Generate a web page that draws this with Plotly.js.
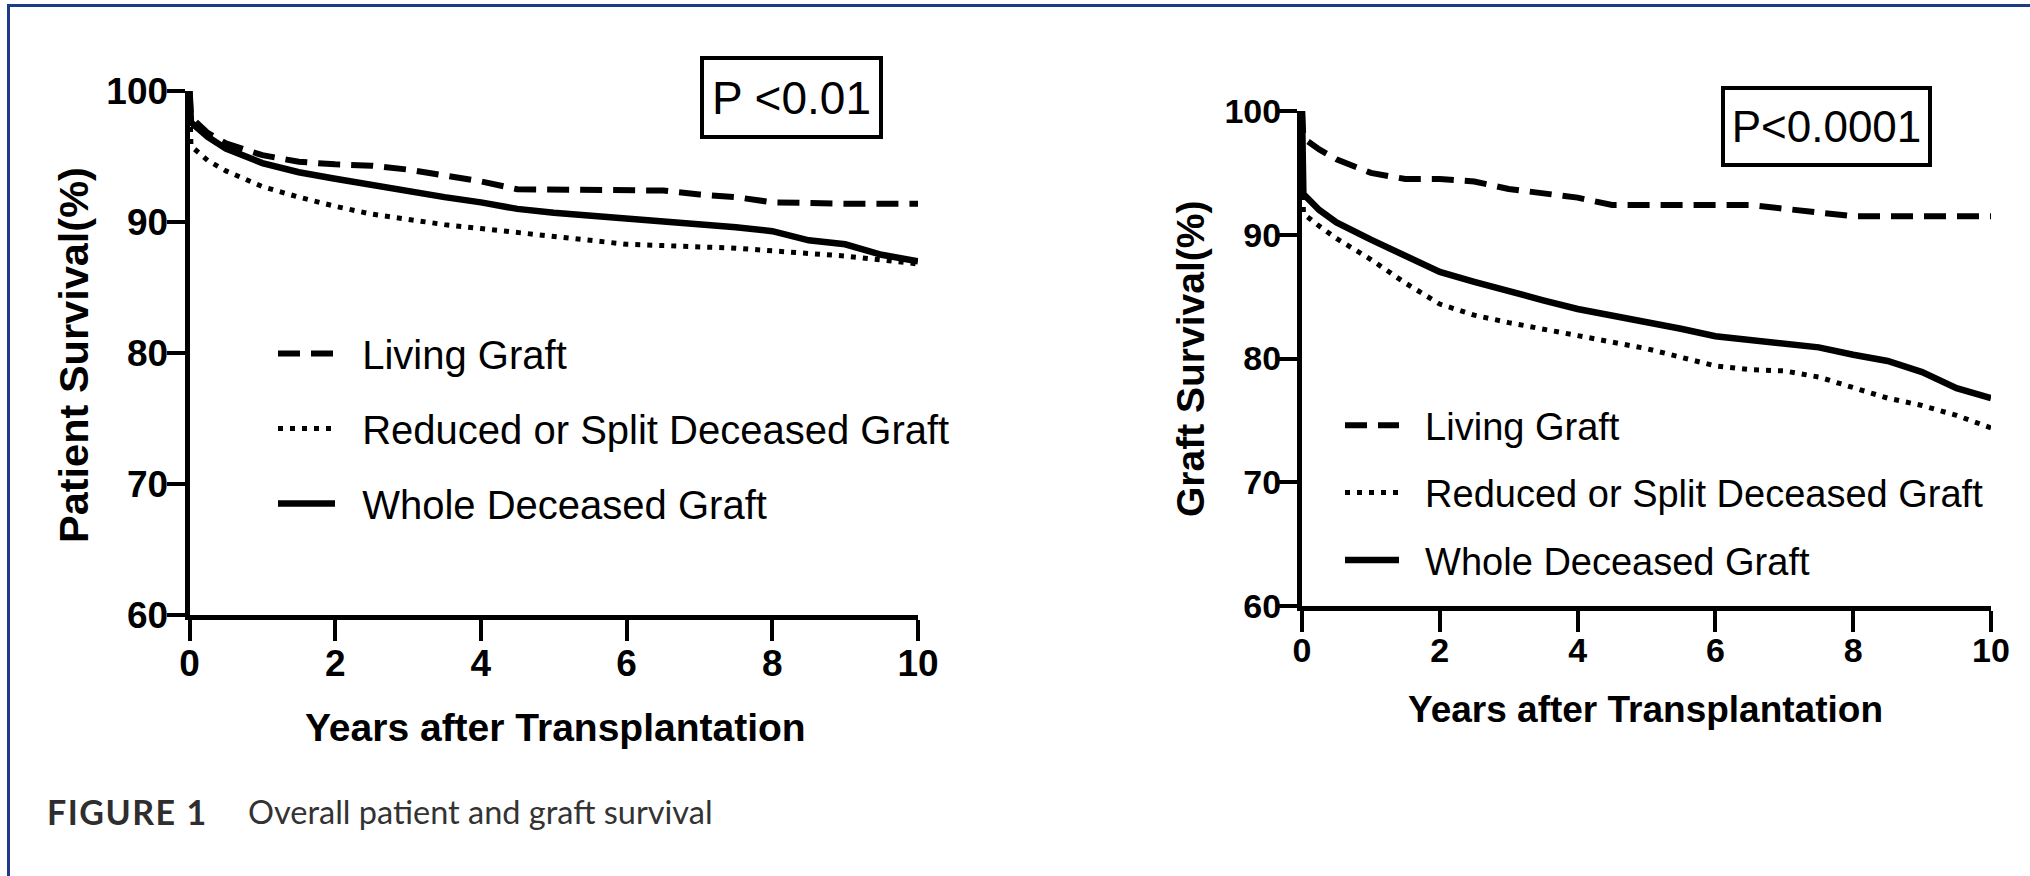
<!DOCTYPE html>
<html>
<head>
<meta charset="utf-8">
<script src="https://cdn.plot.ly/plotly-3.0.1.min.js"></script>
<style>
  html, body { margin: 0; padding: 0; background: #fff; overflow: hidden; }
  #wrap { position: relative; width: 2030px; height: 876px; }
  #chart { position: absolute; left: 0; top: 0; width: 2030px; height: 876px; }
  #frame { position: absolute; left: 7px; top: 4px; width: 2040px; height: 900px;
           border-top: 3px solid #1d3b86; border-left: 3px solid #1d3b86; pointer-events: none; }
  .annotation[data-index="0"] text { letter-spacing: 1.5px; }
</style>
</head>
<body>
<div id="wrap">
  <div id="chart"></div>
  <div id="frame"></div>
</div>
<script>
// ---------------- data ----------------
const years = [0, 0.02, 0.25, 0.5, 1, 1.5, 2, 2.5, 3, 3.5, 4, 4.5, 5, 5.5, 6, 6.5, 7, 7.5, 8, 8.5, 9, 9.5, 10];

// Patient survival (%)
const patientLiving  = [100, 98.0, 96.8, 96.0, 95.1, 94.6, 94.4, 94.3, 94.0, 93.6, 93.1, 92.5, 92.5, 92.5, 92.5, 92.4, 92.1, 91.9, 91.5, 91.4, 91.4, 91.4, 91.4];
const patientReduced = [100, 95.8, 94.7, 93.9, 92.7, 91.9, 91.2, 90.6, 90.2, 89.8, 89.5, 89.2, 88.9, 88.6, 88.3, 88.2, 88.1, 88.0, 87.8, 87.6, 87.4, 87.1, 86.8];
const patientWhole   = [100, 97.6, 96.5, 95.6, 94.5, 93.8, 93.3, 92.8, 92.3, 91.9, 91.5, 91.0, 90.7, 90.5, 90.2, 90.1, 89.9, 89.6, 89.3, 88.6, 88.3, 87.5, 87.0];

// Graft survival (%)
const graftLiving  = [100, 97.8, 96.9, 96.1, 95.0, 94.5, 94.5, 94.3, 93.7, 93.3, 93.0, 92.4, 92.4, 92.4, 92.4, 92.4, 92.1, 91.8, 91.5, 91.5, 91.5, 91.5, 91.5];
const graftReduced = [100, 91.7, 90.7, 89.7, 88.0, 86.1, 84.4, 83.5, 82.9, 82.4, 81.8, 81.3, 80.8, 80.1, 79.4, 79.1, 79.0, 78.5, 77.6, 76.8, 76.2, 75.4, 74.4];
const graftWhole   = [100, 93.3, 92.0, 91.0, 89.6, 88.3, 87.0, 86.2, 85.4, 84.7, 84.0, 83.5, 82.9, 82.4, 81.8, 81.5, 81.2, 80.9, 80.3, 79.8, 78.9, 77.6, 76.8];

const seriesNames = ["Living Graft", "Reduced or Split Deceased Graft", "Whole Deceased Graft"];
const xTicks = [0, 2, 4, 6, 8, 10];
const yTicks = [60, 70, 80, 90, 100];
const xTitle = "Years after Transplantation";
const yTitleLeft = "Patient Survival(%)";
const yTitleRight = "Graft Survival(%)";
const pLeft = "P <0.01";
const pRight = "P<0.0001";
const captionLabel = "FIGURE 1";
const captionText = "Overall patient and graft survival";

// ---------------- layout helpers ----------------
const W = 2030, H = 876;
const px = v => v / W;
const py = v => 1 - v / H;
const FONT = "Liberation Sans, Arial, Helvetica, sans-serif";
const GAP = "\u00a0\u00a0";   // visual gap between legend sample and label

const dashStyles = ["22px,11px", "5px,7px", "solid"];
const widths = [6, 5, 6.5];

function mkTraces(vals, xa, ya, legendId, group) {
  return vals.map((v, i) => ({
    type: "scatter", mode: "lines",
    x: years, y: v, xaxis: xa, yaxis: ya,
    name: GAP + seriesNames[i],
    legend: legendId,
    legendgroup: group + i,
    line: { color: "#000", width: widths[i], dash: dashStyles[i] },
    hoverinfo: "skip"
  }));
}

const traces = [
  ...mkTraces([patientLiving, patientReduced, patientWhole], "x", "y", "legend", "p"),
  ...mkTraces([graftLiving, graftReduced, graftWhole], "x2", "y2", "legend2", "g")
];

function xAxis(domain, size, standoff) {
  return {
    domain: domain, range: [0, 10], tickvals: xTicks, ticktext: xTicks.map(String),
    showline: true, linewidth: 5, linecolor: "#000", mirror: false,
    ticks: "outside", ticklen: 21, tickwidth: 4, tickcolor: "#000",
    ticklabelstandoff: standoff,
    showgrid: false, zeroline: false, fixedrange: true,
    tickfont: { family: FONT, size: size, color: "#000", weight: "bold" }
  };
}
function yAxis(domain, size, anchor, standoff) {
  return {
    domain: domain, range: [60, 100], tickvals: yTicks, ticktext: yTicks.map(String),
    anchor: anchor,
    showline: true, linewidth: 5, linecolor: "#000",
    ticks: "outside", ticklen: 18, tickwidth: 4, tickcolor: "#000",
    ticklabelstandoff: standoff,
    showgrid: false, zeroline: false, fixedrange: true,
    tickfont: { family: FONT, size: size, color: "#000", weight: "bold" }
  };
}

const layout = {
  width: W, height: H,
  margin: { l: 0, r: 0, t: 0, b: 0, pad: 0 },
  paper_bgcolor: "#fff", plot_bgcolor: "#fff",
  showlegend: true,
  xaxis:  Object.assign(xAxis([px(189.5), px(918)], 37, -9), { anchor: "y" }),
  yaxis:  yAxis([py(615), py(91)], 37, "x", -9),
  xaxis2: Object.assign(xAxis([px(1302), px(1991)], 34, -11), { anchor: "y2" }),
  yaxis2: yAxis([py(606), py(111)], 34, "x2", -9),
  legend: {
    x: px(273), y: py(321), xanchor: "left", yanchor: "top",
    bgcolor: "rgba(0,0,0,0)", borderwidth: 0,
    font: { family: FONT, size: 40, color: "#000" },
    itemwidth: 57, tracegroupgap: 20, itemclick: false, itemdoubleclick: false
  },
  legend2: {
    x: px(1340), y: py(394), xanchor: "left", yanchor: "top",
    bgcolor: "rgba(0,0,0,0)", borderwidth: 0,
    font: { family: FONT, size: 38, color: "#000" },
    itemwidth: 54, tracegroupgap: 15, itemclick: false, itemdoubleclick: false
  },
  annotations: [
    { text: captionLabel, xref: "paper", yref: "paper", x: px(127), y: py(811),
      xanchor: "center", yanchor: "middle", showarrow: false,
      font: { family: "Lato, Open Sans, sans-serif", size: 34, color: "#2e2e2e", weight: "bold" } },
    { text: captionText, xref: "paper", yref: "paper", x: px(246), y: py(811),
      xanchor: "left", yanchor: "middle", showarrow: false,
      font: { family: "Lato, Open Sans, sans-serif", size: 32.5, color: "#333" } },
    { text: xTitle, xref: "paper", yref: "paper", x: px(555), y: py(727),
      xanchor: "center", yanchor: "middle", showarrow: false,
      font: { family: FONT, size: 39, color: "#000", weight: "bold" } },
    { text: xTitle, xref: "paper", yref: "paper", x: px(1645), y: py(709),
      xanchor: "center", yanchor: "middle", showarrow: false,
      font: { family: FONT, size: 37, color: "#000", weight: "bold" } },
    { text: yTitleLeft, xref: "paper", yref: "paper", x: px(73), y: py(355),
      xanchor: "center", yanchor: "middle", showarrow: false, textangle: -90,
      font: { family: FONT, size: 41.5, color: "#000", weight: "bold" } },
    { text: yTitleRight, xref: "paper", yref: "paper", x: px(1190), y: py(359),
      xanchor: "center", yanchor: "middle", showarrow: false, textangle: -90,
      font: { family: FONT, size: 39, color: "#000", weight: "bold" } },
    { text: pLeft, xref: "paper", yref: "paper", x: px(791.5), y: py(97.5),
      xanchor: "center", yanchor: "middle", showarrow: false,
      width: 175, height: 75, borderpad: 0, bordercolor: "#000", borderwidth: 4,
      font: { family: FONT, size: 46, color: "#000" } },
    { text: pRight, xref: "paper", yref: "paper", x: px(1826.5), y: py(126.5),
      xanchor: "center", yanchor: "middle", showarrow: false,
      width: 203, height: 73, borderpad: 0, bordercolor: "#000", borderwidth: 4,
      font: { family: FONT, size: 44, color: "#000" } }
  ]
};

Plotly.newPlot("chart", traces, layout, { staticPlot: true, displayModeBar: false });
</script>
</body>
</html>
